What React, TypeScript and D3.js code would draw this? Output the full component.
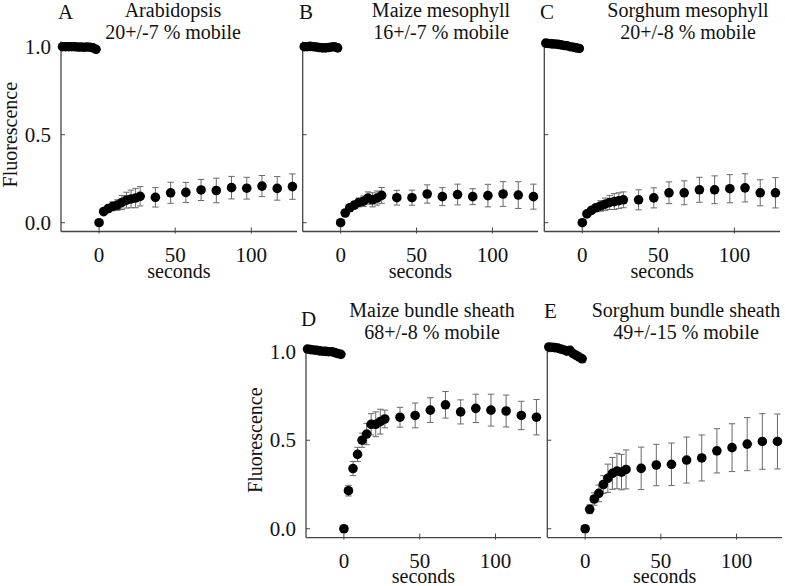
import React from "react";
import * as d3 from "d3";

// ---- data ----
const preTimes = [-24, -22, -20, -18, -16, -14, -12, -10, -8, -6, -4, -2];
const postTimes = [0, 3, 6, 9, 12, 15, 18, 21, 24, 27, 37, 47, 57, 67, 77, 87, 97, 107, 117, 127];
const xTicks = [0, 50, 100];
const yTicks = [0, 0.5, 1.0];

const aPre = [1.0, 1.0, 1.0, 1.0, 1.0, 0.998, 0.998, 0.997, 0.998, 0.997, 0.993, 0.985];
const aPost = [0, 0.063, 0.08, 0.093, 0.1, 0.115, 0.128, 0.135, 0.14, 0.15, 0.144, 0.17, 0.172, 0.186, 0.183, 0.199, 0.196, 0.208, 0.195, 0.205];
const aErr = [0, 0.01, 0.02, 0.025, 0.03, 0.04, 0.045, 0.05, 0.055, 0.055, 0.055, 0.06, 0.057, 0.06, 0.07, 0.064, 0.062, 0.06, 0.067, 0.072];

const bPre = [1.0, 1.0, 1.002, 1.0, 0.998, 0.995, 0.993, 0.993, 0.995, 0.998, 1.0, 0.993];
const bPost = [0, 0.055, 0.085, 0.1, 0.115, 0.122, 0.14, 0.13, 0.14, 0.155, 0.142, 0.142, 0.163, 0.148, 0.16, 0.148, 0.154, 0.163, 0.157, 0.148];
const bErr = [0, 0.01, 0.015, 0.02, 0.025, 0.03, 0.035, 0.04, 0.04, 0.045, 0.042, 0.043, 0.052, 0.051, 0.059, 0.045, 0.064, 0.07, 0.076, 0.071];

const cPre = [1.02, 1.018, 1.016, 1.015, 1.013, 1.01, 1.007, 1.005, 1.0, 0.997, 0.993, 0.99];
const cPost = [0, 0.05, 0.07, 0.085, 0.095, 0.105, 0.115, 0.12, 0.125, 0.13, 0.13, 0.141, 0.17, 0.17, 0.187, 0.187, 0.193, 0.198, 0.17, 0.17];
const cErr = [0, 0.01, 0.015, 0.02, 0.03, 0.035, 0.04, 0.045, 0.045, 0.045, 0.057, 0.057, 0.062, 0.068, 0.071, 0.079, 0.08, 0.08, 0.074, 0.086];

const dPre = [1.015, 1.012, 1.01, 1.008, 1.005, 1.003, 1.002, 1.0, 1.0, 0.995, 0.99, 0.985];
const dPost = [0, 0.215, 0.34, 0.42, 0.5, 0.535, 0.59, 0.59, 0.605, 0.62, 0.63, 0.64, 0.67, 0.7, 0.66, 0.68, 0.67, 0.665, 0.64, 0.63];
const dErr = [0, 0.03, 0.04, 0.04, 0.04, 0.06, 0.06, 0.07, 0.07, 0.05, 0.056, 0.07, 0.07, 0.075, 0.068, 0.08, 0.09, 0.09, 0.08, 0.1];

const ePre = [1.027, 1.025, 1.023, 1.02, 1.015, 1.01, 1.003, 1.008, 0.99, 0.98, 0.97, 0.96];
const ePost = [0, 0.11, 0.168, 0.2, 0.25, 0.285, 0.313, 0.326, 0.32, 0.335, 0.341, 0.36, 0.364, 0.388, 0.4, 0.44, 0.458, 0.478, 0.493, 0.493];
const eErr = [0, 0.025, 0.035, 0.047, 0.05, 0.08, 0.09, 0.1, 0.1, 0.11, 0.12, 0.117, 0.12, 0.13, 0.13, 0.125, 0.135, 0.15, 0.157, 0.155];

const letters = ["A", "B", "C", "D", "E"];
const titles1 = ["Arabidopsis", "Maize mesophyll", "Sorghum mesophyll", "Maize bundle sheath", "Sorghum bundle sheath"];
const titles2 = ["20+/-7 % mobile", "16+/-7 % mobile", "20+/-8 % mobile", "68+/-8 % mobile", "49+/-15 % mobile"];
const preSeries = [aPre, bPre, cPre, dPre, ePre];
const postSeries = [aPost, bPost, cPost, dPost, ePost];
const errSeries = [aErr, bErr, cErr, dErr, eErr];

// ---- layout ----
const W = 785;
const H = 586;
const FONT = "'Liberation Serif', 'Times New Roman', serif";
const layout = [
  { x0: 61, x1: 297, yB: 231.5, yT: 41.4, yLab: true, letterX: 58, letterY: 19, titleCx: 173, titleY: 17, secY: 278 },
  { x0: 302.7, x1: 538, yB: 231.5, yT: 41.4, yLab: false, letterX: 299, letterY: 19, titleCx: 441, titleY: 17, secY: 278 },
  { x0: 544.3, x1: 780, yB: 231.5, yT: 41.4, yLab: false, letterX: 540, letterY: 19, titleCx: 688, titleY: 17, secY: 278 },
  { x0: 306, x1: 541, yB: 537.6, yT: 346.4, yLab: true, letterX: 301, letterY: 326, titleCx: 432, titleY: 317, secY: 583 },
  { x0: 547.3, x1: 782, yB: 537.6, yT: 346.4, yLab: false, letterX: 544, letterY: 318, titleCx: 686, titleY: 317, secY: 583 },
];

function Panel({ i }: { i: number }) {
  const L = layout[i];
  const x = d3.scaleLinear().domain([-25, 130]).range([L.x0, L.x1]);
  const y = d3.scaleLinear().domain([-0.05, 1.03]).range([L.yB, L.yT]);
  const pre = preSeries[i];
  const post = postSeries[i];
  const err = errSeries[i];
  const axisColor = "#444";
  const cap = 3.2;
  return (
    <g>
      {/* axes */}
      <line x1={L.x0} x2={L.x0} y1={y(1.03)} y2={L.yB} stroke={axisColor} strokeWidth={1.3} />
      <line x1={L.x0} x2={L.x1} y1={L.yB} y2={L.yB} stroke={axisColor} strokeWidth={1.3} />
      {yTicks.map((t) => (
        <g key={"yt" + t}>
          <line x1={L.x0} x2={L.x0 + 4} y1={y(t)} y2={y(t)} stroke={axisColor} strokeWidth={1} />
          {L.yLab && (
            <text x={L.x0 - 10} y={y(t) + 7} textAnchor="end" fontSize={21} fontFamily={FONT} fill="#111">
              {d3.format(".1f")(t)}
            </text>
          )}
        </g>
      ))}
      {xTicks.map((t) => (
        <g key={"xt" + t}>
          <line x1={x(t)} x2={x(t)} y1={L.yB - 4} y2={L.yB + 2} stroke={axisColor} strokeWidth={1} />
          <text x={x(t)} y={L.yB + 30} textAnchor="middle" fontSize={21} fontFamily={FONT} fill="#111">
            {t}
          </text>
        </g>
      ))}
      <text x={(L.x0 + L.x1) / 2} y={L.secY} textAnchor="middle" fontSize={20} fontFamily={FONT} fill="#111">
        seconds
      </text>
      {L.yLab && (
        <text
          transform={`translate(${L.x0 - 44},${y(0.5)}) rotate(-90)`}
          textAnchor="middle"
          fontSize={20}
          fontFamily={FONT}
          fill="#111"
        >
          Fluorescence
        </text>
      )}
      {/* error bars */}
      {postTimes.map((t, k) =>
        err[k] > 0.012 ? (
          <g key={"e" + k} stroke="#6a6a6a" strokeWidth={1}>
            <line x1={x(t)} x2={x(t)} y1={y(post[k] - err[k])} y2={y(post[k] + err[k])} />
            <line x1={x(t) - cap} x2={x(t) + cap} y1={y(post[k] - err[k])} y2={y(post[k] - err[k])} />
            <line x1={x(t) - cap} x2={x(t) + cap} y1={y(post[k] + err[k])} y2={y(post[k] + err[k])} />
          </g>
        ) : null
      )}
      {/* points */}
      {preTimes.map((t, k) => (
        <circle key={"p" + k} cx={x(t)} cy={y(pre[k])} r={4.8} fill="#000" />
      ))}
      {postTimes.map((t, k) => (
        <circle key={"q" + k} cx={x(t)} cy={y(post[k])} r={4.8} fill="#000" />
      ))}
      {/* titles */}
      <text x={L.letterX} y={L.letterY} fontSize={21} fontFamily={FONT} fill="#111">
        {letters[i]}
      </text>
      <text x={L.titleCx} y={L.titleY} textAnchor="middle" fontSize={20} fontFamily={FONT} fill="#111">
        {titles1[i]}
      </text>
      <text x={L.titleCx} y={L.titleY + 21.5} textAnchor="middle" fontSize={20} fontFamily={FONT} fill="#111">
        {titles2[i]}
      </text>
    </g>
  );
}

export default function App() {
  return (
    <svg
      width={W}
      height={H}
      viewBox={`0 0 ${W} ${H}`}
      style={{ position: "absolute", left: 0, top: 0, background: "#fff" }}
    >
      <rect width={W} height={H} fill="#fff" />
      {letters.map((_, i) => (
        <Panel key={i} i={i} />
      ))}
    </svg>
  );
}
